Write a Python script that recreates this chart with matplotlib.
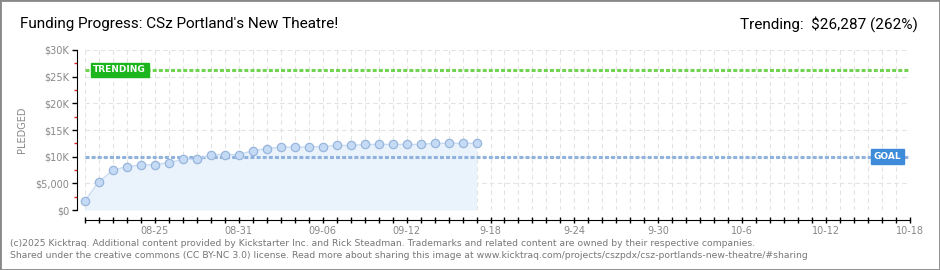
import pandas as pd
import matplotlib
matplotlib.use("Agg")
import matplotlib.pyplot as plt
import matplotlib.dates as mdates
import matplotlib.transforms as mtransforms
from matplotlib.patches import Rectangle

# data
start_day = "2025-08-20"
end_day = "2025-10-18"
pledged = [1770, 5330, 7460, 8150, 8400, 8520, 8900, 9500, 9500, 10400,
           10400, 10400, 11100, 11500, 11800, 11800, 11800, 11900, 12100, 12100,
           12300, 12300, 12300, 12300, 12300, 12500, 12500, 12500, 12500]
goal = 10000
trending = 26287
tick_days = ["2025-08-25", "2025-08-31", "2025-09-06", "2025-09-12", "2025-09-18",
             "2025-09-24", "2025-09-30", "2025-10-06", "2025-10-12", "2025-10-18"]
tick_labels = ["08-25", "08-31", "09-06", "09-12", "9-18", "9-24", "9-30",
               "10-6", "10-12", "10-18"]
y_ticks = [0, 5000, 10000, 15000, 20000, 25000, 30000]
y_labels = ["$0", "$5,000", "$10K", "$15K", "$20K", "$25K", "$30K"]

dates = pd.date_range(start_day, periods=len(pledged), freq="D")

fig = plt.figure(figsize=(9.4, 2.7), dpi=100)
fig.patch.set_facecolor("white")
ax = fig.add_axes([85/940, 60/270, 825/940, 160/270])

ax.set_xlim(pd.Timestamp(start_day), pd.Timestamp(end_day))
ax.set_ylim(0, 30000)

# grid
ax.xaxis.set_minor_locator(mdates.DayLocator())
ax.set_xticks(pd.to_datetime(tick_days))
ax.set_xticklabels(tick_labels)
ax.set_yticks(y_ticks)
ax.set_yticklabels(y_labels)
ax.set_yticks([2500, 7500, 12500, 17500, 22500, 27500], minor=True)
dash = (0, (4, 3))
ax.grid(True, which="both", axis="x", color="#e3e3e3", lw=0.8, linestyle=dash)
ax.grid(True, which="major", axis="y", color="#e3e3e3", lw=0.8, linestyle=dash)
ax.set_axisbelow(True)

for s in ["top", "right"]:
    ax.spines[s].set_visible(False)
ax.spines["left"].set_position(("outward", 6))
ax.spines["bottom"].set_position(("outward", 7.5))

ax.tick_params(axis="y", which="major", length=3.5, width=1, color="black",
               labelsize=7, labelcolor="#888888", pad=2)
ax.tick_params(axis="y", which="minor", length=2.5, width=1, color="#dd2222")
ax.tick_params(axis="x", which="both", direction="inout", length=4, width=1,
               color="black", labelsize=7, labelcolor="#888888", pad=2)

# pledged series
ax.fill_between(dates, pledged, color="#eaf2fc", lw=0)
ax.plot(dates, pledged, color="#c8dcf4", lw=1, marker="o", markersize=6,
        markerfacecolor="#c4daf5", markeredgecolor="#98b6dc", markeredgewidth=0.9,
        clip_on=False, zorder=3)

# goal / trending lines
ax.axhline(trending, color="#72d252", lw=2.2, linestyle=(0, (1.3, 0.7)), zorder=2)
ax.axhline(goal, color="#8fb2df", lw=2.2, linestyle=(0, (1.3, 0.7)), zorder=2)

tr = mtransforms.blended_transform_factory(ax.transAxes, ax.transData)
ax.text(0.042, trending, "TRENDING", transform=tr, ha="center", va="center",
        fontsize=6.5, color="white", fontweight="bold",
        bbox=dict(boxstyle="square,pad=0.3", fc="#1db51d", ec="#1db51d"), zorder=5)
ax.text(0.973, goal, "GOAL", transform=tr, ha="center", va="center",
        fontsize=6.5, color="white", fontweight="bold",
        bbox=dict(boxstyle="square,pad=0.3", fc="#3d8bd9", ec="#3d8bd9"), zorder=5)

ax.set_ylabel("PLEDGED", fontsize=7, color="#888888")
ax.yaxis.set_label_coords(-58/825, 0.5)

# header / footer texts
fig.text(20/940, 1 - 24/270, "Funding Progress: CSz Portland's New Theatre!",
         family="Roboto", fontsize=11, color="#000000", va="center", ha="left")
fig.text(918/940, 1 - 24/270, "Trending:  $26,287 (262%)",
         family="Roboto", fontsize=11, color="#000000", va="center", ha="right")
fig.text(10/940, 1 - 243/270,
         "(c)2025 Kicktraq. Additional content provided by Kickstarter Inc. and Rick Steadman. "
         "Trademarks and related content are owned by their respective companies.",
         fontsize=6.65, color="#777777", va="center", ha="left")
fig.text(10/940, 1 - 255/270,
         "Shared under the creative commons (CC BY-NC 3.0) license. Read more about sharing this image at "
         "www.kicktraq.com/projects/cszpdx/csz-portlands-new-theatre/#sharing",
         fontsize=6.65, color="#777777", va="center", ha="left")

fig.patches.append(Rectangle((0, 0), 1, 1, transform=fig.transFigure, fill=False,
                             ec="#888888", lw=2))

fig.savefig("out.png", dpi=100)
